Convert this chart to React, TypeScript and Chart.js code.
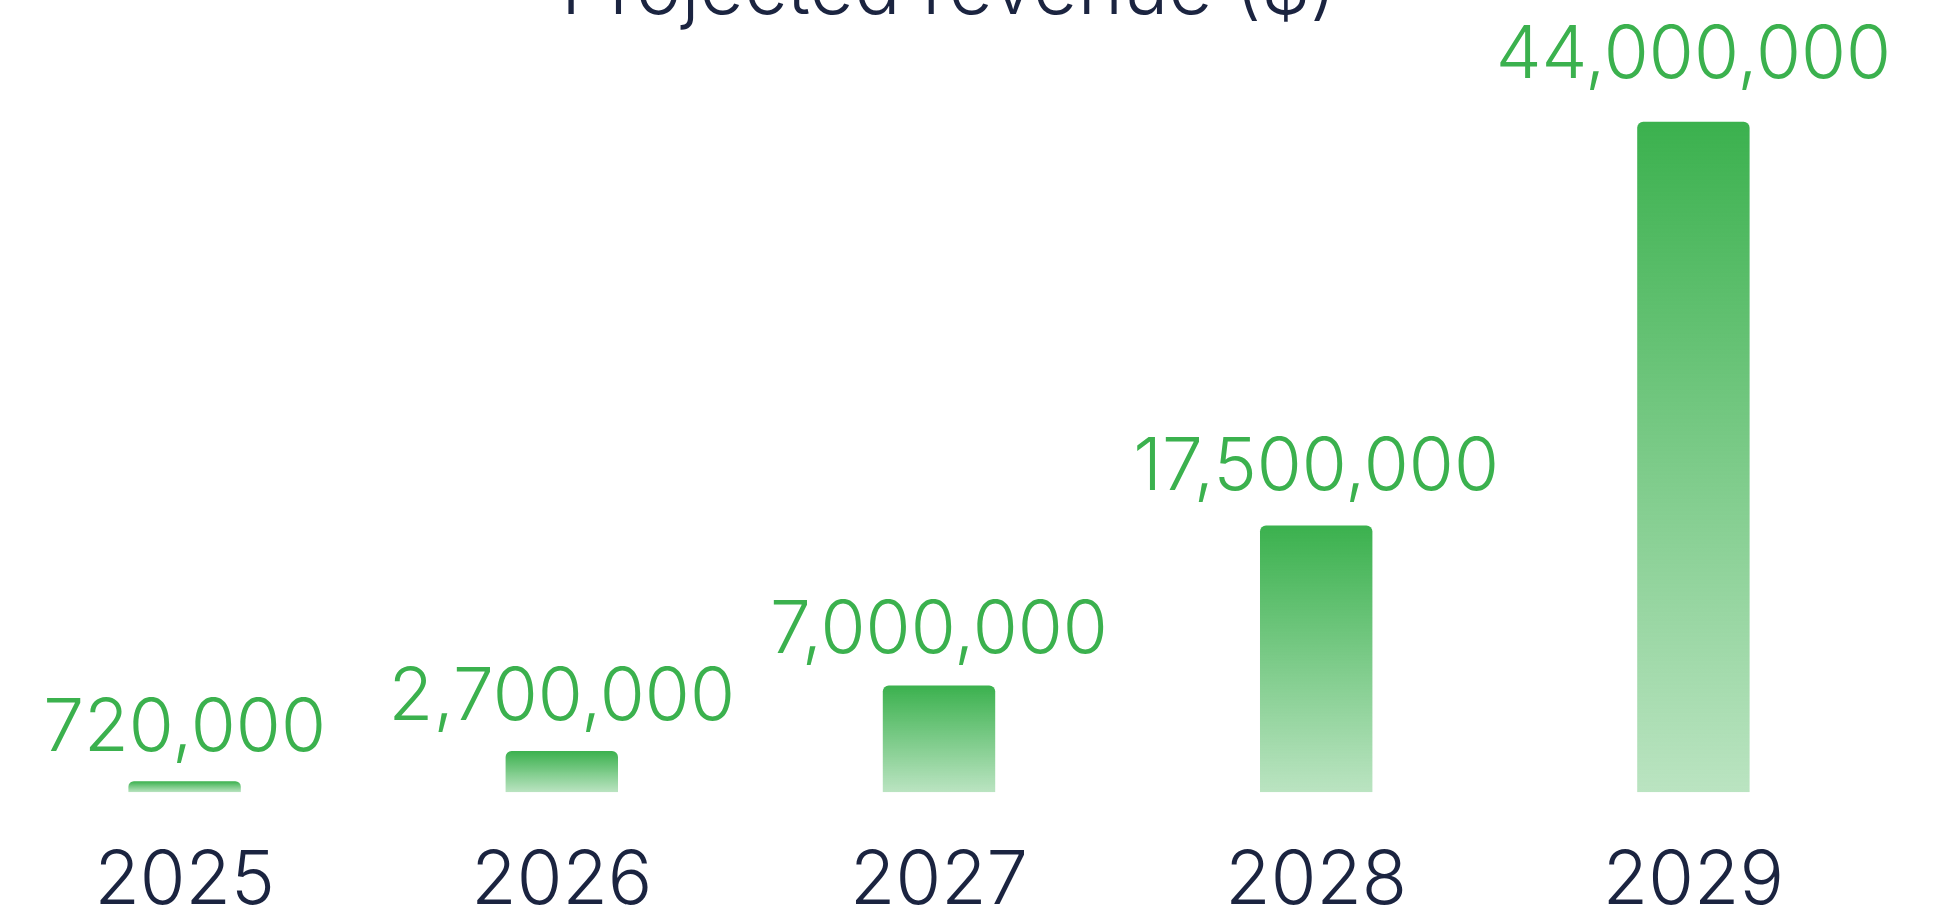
import React, { useEffect, useRef } from "react";
import { Chart, registerables } from "chart.js";

Chart.register(...registerables);

// ---- data ----
const years: string[] = ["2025", "2026", "2027", "2028", "2029"];
const revenue: number[] = [720000, 2700000, 7000000, 17500000, 44000000];
const chartTitle = "Projected revenue ($)";
const yMax = 45000000;

// ---- style ----
const GREEN = "#3bb14e";
const NAVY = "#1b2440";
const FONT = "Inter";

const fmt = new Intl.NumberFormat("en-US");

const valueLabels = {
  id: "valueLabels",
  afterDatasetsDraw(chart: any) {
    const { ctx } = chart;
    const meta = chart.getDatasetMeta(0);
    const base = chart.scales.y.getPixelForValue(0);
    ctx.save();
    ctx.font = `350 73px ${FONT}`;
    ctx.fillStyle = GREEN;
    ctx.textAlign = "center";
    ctx.textBaseline = "alphabetic";
    meta.data.forEach((bar: any, i: number) => {
      const h = base - bar.y;
      ctx.fillText(fmt.format(revenue[i]), bar.x, bar.y - 30 - 0.02 * h);
    });
    ctx.restore();
  },
};

export default function App() {
  const ref = useRef<HTMLCanvasElement | null>(null);

  useEffect(() => {
    if (!ref.current) return;
    const chart = new Chart(ref.current, {
      type: "bar",
      data: {
        labels: years,
        datasets: [
          {
            data: revenue,
            backgroundColor: (c: any) => {
              const ch = c.chart;
              if (!ch.chartArea || c.dataIndex == null || !ch.scales.y) return GREEN;
              const ys = ch.scales.y;
              const top = ys.getPixelForValue(revenue[c.dataIndex]);
              const bottom = ys.getPixelForValue(0);
              if (!isFinite(top) || !isFinite(bottom) || bottom - top < 0.5) return GREEN;
              const g = ch.ctx.createLinearGradient(0, top, 0, bottom);
              g.addColorStop(0, "rgba(59,177,78,1)");
              g.addColorStop(1, "rgba(59,177,78,0.35)");
              return g;
            },
            borderRadius: 6,
            borderSkipped: "bottom",
            categoryPercentage: 1,
            barPercentage: 0.298,
          },
        ],
      },
      options: {
        responsive: true,
        maintainAspectRatio: false,
        animation: false,
        layout: { padding: { right: 44 } },
        plugins: {
          legend: { display: false },
          tooltip: { enabled: false },
          title: {
            display: true,
            text: chartTitle,
            color: NAVY,
            font: { family: FONT, size: 77, weight: 350 },
            padding: { top: 0, bottom: 69 },
          },
        },
        scales: {
          x: {
            grid: { display: false },
            border: { display: false },
            ticks: { color: NAVY, font: { family: FONT, size: 74, weight: 350 }, padding: 37 },
          },
          y: {
            display: true,
            position: "right",
            min: 0,
            max: yMax,
            ticks: { display: false },
            grid: { display: false },
            border: { display: false },
            afterFit: (s: any) => {
              s.width = 20;
            },
          },
        },
      },
      plugins: [valueLabels],
    });
    return () => chart.destroy();
  }, []);

  return (
    <div style={{ position: "fixed", inset: 0, overflow: "hidden", background: "#fff" }}>
      <div style={{ position: "absolute", left: -4, top: -55, width: 1950, height: 1018 }}>
        <canvas ref={ref} />
      </div>
    </div>
  );
}
